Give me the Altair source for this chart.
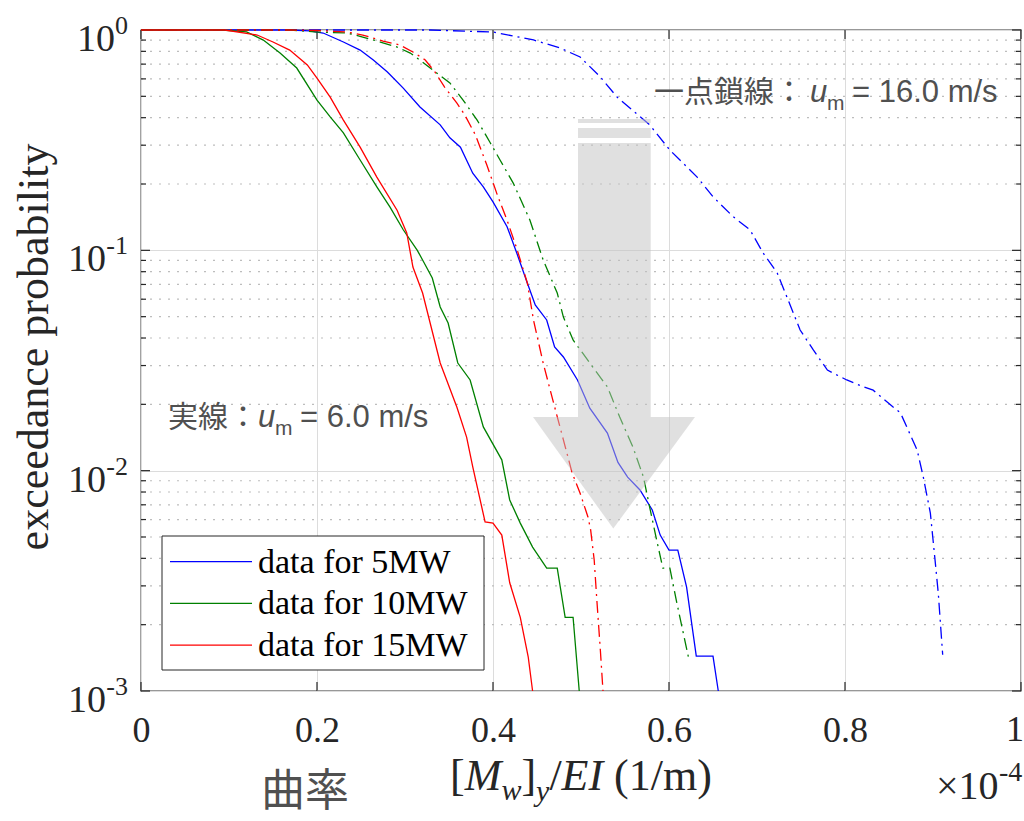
import altair as alt
import pandas as pd

# ---------------- data ----------------
SERIES = ["data for 5MW", "data for 10MW", "data for 15MW"]
COLORS = ["#0000ff", "#008000", "#ff0000"]

# solid lines : u_m = 6.0 m/s
blue_solid_x = [0, 0.169, 0.192, 0.207, 0.230, 0.249, 0.264, 0.280, 0.298, 0.317, 0.340, 0.351,
                0.363, 0.377, 0.389, 0.400, 0.416, 0.427, 0.439, 0.448, 0.461, 0.470, 0.480,
                0.496, 0.510, 0.530, 0.542, 0.553, 0.567, 0.581, 0.590, 0.600, 0.610, 0.620,
                0.631, 0.650, 0.656]
blue_solid_y = [1, 1, 0.99, 0.969, 0.882, 0.811, 0.731, 0.645, 0.545, 0.447, 0.371, 0.324,
                0.294, 0.224, 0.194, 0.166, 0.128, 0.0972, 0.0711, 0.0565, 0.0483, 0.0364, 0.0328,
                0.0258, 0.0192, 0.0148, 0.0109, 0.00935, 0.00817, 0.00663, 0.0051, 0.00436, 0.00436,
                0.00296, 0.00144, 0.00144, 0.001]

green_solid_x = [0, 0.092, 0.120, 0.139, 0.158, 0.177, 0.200, 0.215, 0.230, 0.249, 0.268, 0.283,
                 0.298, 0.314, 0.320, 0.331, 0.340, 0.349, 0.360, 0.374, 0.389, 0.410, 0.419,
                 0.431, 0.445, 0.461, 0.473, 0.482, 0.491, 0.498]
green_solid_y = [1, 1, 0.98, 0.90, 0.787, 0.672, 0.481, 0.403, 0.341, 0.257, 0.194, 0.157,
                 0.124, 0.100, 0.0904, 0.0749, 0.0553, 0.0468, 0.0308, 0.0258, 0.0158, 0.0112, 0.00736,
                 0.00578, 0.0045, 0.00361, 0.00361, 0.00216, 0.00216, 0.001]

red_solid_x = [0, 0.0955, 0.132, 0.150, 0.169, 0.189, 0.200, 0.215, 0.230, 0.249, 0.268, 0.291,
               0.302, 0.309, 0.320, 0.340, 0.359, 0.370, 0.377, 0.391, 0.400, 0.410, 0.419,
               0.431, 0.440, 0.445]
red_solid_y = [1, 1, 0.949, 0.882, 0.811, 0.694, 0.605, 0.496, 0.390, 0.294, 0.215, 0.152,
               0.12, 0.084, 0.064, 0.0308, 0.0194, 0.0142, 0.0104, 0.00585, 0.00578, 0.0051, 0.0031,
               0.00216, 0.00143, 0.001]

# dash-dot lines : u_m = 16.0 m/s
blue_dd_x = [0, 0.328, 0.400, 0.446, 0.476, 0.499, 0.522, 0.541, 0.578, 0.601, 0.632, 0.650,
             0.673, 0.692, 0.707, 0.723, 0.734, 0.749, 0.764, 0.780, 0.802, 0.821, 0.832, 0.855,
             0.863, 0.882, 0.889, 0.897, 0.902, 0.906, 0.911]
blue_dd_y = [1, 1, 0.979, 0.901, 0.829, 0.754, 0.612, 0.496, 0.371, 0.285, 0.215, 0.175,
             0.142, 0.124, 0.0972, 0.0789, 0.0614, 0.0435, 0.0353, 0.0286, 0.0258, 0.0240, 0.0232,
             0.0194, 0.0183, 0.0124, 0.00935, 0.00642, 0.00405, 0.00278, 0.00146]

green_dd_x = [0, 0.17, 0.200, 0.234, 0.252, 0.272, 0.291, 0.306, 0.320, 0.336, 0.351, 0.366,
              0.382, 0.397, 0.408, 0.423, 0.442, 0.457, 0.473, 0.480, 0.491, 0.510, 0.530, 0.544,
              0.559, 0.571, 0.578, 0.586, 0.593, 0.601, 0.609, 0.622]
green_dd_y = [1, 1, 0.979, 0.969, 0.929, 0.882, 0.837, 0.786, 0.715, 0.638, 0.575, 0.481,
              0.390, 0.307, 0.257, 0.202, 0.137, 0.0904, 0.064, 0.0498, 0.0392, 0.0308, 0.0240,
              0.0175, 0.0128, 0.00935, 0.00684, 0.00484, 0.00361, 0.00361, 0.0025, 0.00143]

red_dd_x = [0, 0.17, 0.200, 0.234, 0.252, 0.275, 0.294, 0.309, 0.323, 0.334, 0.345, 0.359,
            0.368, 0.380, 0.393, 0.405, 0.416, 0.427, 0.439, 0.446, 0.457, 0.468, 0.480, 0.490,
            0.499, 0.508, 0.511, 0.515, 0.518, 0.522, 0.525]
red_dd_y = [1, 1, 0.995, 0.979, 0.949, 0.891, 0.855, 0.795, 0.731, 0.645, 0.551, 0.466,
            0.411, 0.334, 0.244, 0.178, 0.137, 0.102, 0.0711, 0.0483, 0.0308, 0.0209, 0.0138,
            0.00975, 0.0079, 0.00615, 0.00537, 0.00393, 0.00259, 0.00153, 0.001]

X_TICKS = [0, 0.2, 0.4, 0.6, 0.8, 1.0]
Y_DECADES = [1, 0.1, 0.01, 0.001]
Y_EXPONENTS = ["0", "-1", "-2", "-3"]
Y_MINOR = [0.002, 0.003, 0.004, 0.005, 0.006, 0.007, 0.008, 0.009,
           0.02, 0.03, 0.04, 0.05, 0.06, 0.07, 0.08, 0.09,
           0.2, 0.3, 0.4, 0.5, 0.6, 0.7, 0.8, 0.9]

# big gray arrow (data coordinates)
ARROW_SHAFT_X = [0.4966, 0.5792]
ARROW_SHAFT_TOP = [0.3945, 0.359, 0.307]
ARROW_SHAFT_BOTTOM = [0.378, 0.3235, 0.0175]
ARROW_HEAD_X = [0.4455, 0.5367, 0.6295]
ARROW_HEAD_TOP = [0.0175, 0.0175, 0.0175]
ARROW_HEAD_TIP = [0.0175, 0.00546, 0.0175]

# ---------------- build ----------------
def frame(name, xs, ys):
    return pd.DataFrame({"x": xs, "y": ys, "series": name, "order": list(range(len(xs)))})

solid_df = pd.concat([frame(SERIES[0], blue_solid_x, blue_solid_y),
                      frame(SERIES[1], green_solid_x, green_solid_y),
                      frame(SERIES[2], red_solid_x, red_solid_y)], ignore_index=True)
dd_df = pd.concat([frame(SERIES[0], blue_dd_x, blue_dd_y),
                   frame(SERIES[1], green_dd_x, green_dd_y),
                   frame(SERIES[2], red_dd_x, red_dd_y)], ignore_index=True)

W, H = 880, 661
AX = "#262626"
ANN = "#505050"
SERIF = "Liberation Serif"
SANS = "Liberation Sans"
CJK = "Noto Sans CJK JP"

xscale = alt.Scale(domain=[0, 1], nice=False, zero=False)
yscale = alt.Scale(type="log", domain=[0.001, 1], nice=False)
xaxis = alt.Axis(values=X_TICKS, format="~g", grid=True, gridColor="#dcdcdc", gridWidth=1,
                 ticks=False, tickSize=0, domain=False, labelFont=SERIF, labelFontSize=36,
                 labelColor=AX, labelPadding=22, labelFlush=False, labelOverlap=False, title=None,
                 labelExpr="datum.value >= 1 ? '' : datum.label")
yaxis = alt.Axis(values=Y_DECADES, grid=True, gridColor="#dcdcdc", gridWidth=1, labels=False,
                 ticks=False, tickSize=0, domain=False, title=None)


def X(f="x"):
    return alt.X(f"{f}:Q", scale=xscale, axis=xaxis)


def Y(f="y"):
    return alt.Y(f"{f}:Q", scale=yscale, axis=yaxis)


color = alt.Color("series:N", scale=alt.Scale(domain=SERIES, range=COLORS), legend=None)
DUMMY = pd.DataFrame({"a": [0]})


def txt(text, x, y, size, font=SERIF, col=AX, italic=False, align="left", angle=None,
        baseline="alphabetic"):
    kw = dict(text=text, font=font, fontSize=size, color=col, align=align, baseline=baseline)
    if italic:
        kw["fontStyle"] = "italic"
    if angle is not None:
        kw["angle"] = angle
    return alt.Chart(DUMMY).mark_text(**kw).encode(x=alt.value(x), y=alt.value(y))


layers = []

# minor dotted grid
minor_df = pd.DataFrame({"y": Y_MINOR})
layers.append(alt.Chart(minor_df).mark_rule(color="#bdbdbd", strokeWidth=1.2, strokeDash=[2, 7])
              .encode(y=Y(), x=alt.value(0), x2=alt.value(W)))

# ticks (inside)
xt = pd.DataFrame({"x": X_TICKS})
layers.append(alt.Chart(xt).mark_rule(color=AX, strokeWidth=1.2)
              .encode(x=X(), y=alt.value(H), y2=alt.value(H - 9)))
layers.append(alt.Chart(xt).mark_rule(color=AX, strokeWidth=1.2)
              .encode(x=X(), y=alt.value(0), y2=alt.value(9)))
yt = pd.DataFrame({"y": Y_DECADES})
layers.append(alt.Chart(yt).mark_rule(color=AX, strokeWidth=1.2)
              .encode(y=Y(), x=alt.value(0), x2=alt.value(9)))
layers.append(alt.Chart(yt).mark_rule(color=AX, strokeWidth=1.2)
              .encode(y=Y(), x=alt.value(W - 9), x2=alt.value(W)))
layers.append(alt.Chart(minor_df).mark_rule(color=AX, strokeWidth=1.2)
              .encode(y=Y(), x=alt.value(0), x2=alt.value(5)))
layers.append(alt.Chart(minor_df).mark_rule(color=AX, strokeWidth=1.2)
              .encode(y=Y(), x=alt.value(W - 5), x2=alt.value(W)))

# data lines
layers.append(alt.Chart(solid_df).mark_line(strokeWidth=1.3)
              .encode(x=X(), y=Y(), color=color, order="order:Q"))
layers.append(alt.Chart(dd_df).mark_line(strokeWidth=1.3, strokeDash=[12, 5, 2, 5])
              .encode(x=X(), y=Y(), color=color, order="order:Q"))

# arrow (semi-transparent, on top of lines)
shaft_df = pd.DataFrame({"x": [ARROW_SHAFT_X[0]] * 3, "x2": [ARROW_SHAFT_X[1]] * 3,
                         "y": ARROW_SHAFT_TOP, "y2": ARROW_SHAFT_BOTTOM})
layers.append(alt.Chart(shaft_df).mark_rect(color="#c2c2c2", opacity=0.5)
              .encode(x=X(), x2="x2:Q", y=Y(), y2="y2:Q"))
head_df = pd.DataFrame({"x": ARROW_HEAD_X, "y": ARROW_HEAD_TOP, "y2": ARROW_HEAD_TIP})
layers.append(alt.Chart(head_df).mark_area(color="#c2c2c2", opacity=0.5)
              .encode(x=X(), y=Y(), y2="y2:Q"))

# last x tick label, kept inside the canvas
layers.append(txt("1", W + 3, H + 50, 36, align="right"))

# y tick labels 10^k
for val, ex in zip(Y_DECADES, Y_EXPONENTS):
    d = pd.DataFrame({"y": [val]})
    ew = 13 if len(ex) == 1 else 22
    layers.append(alt.Chart(d).mark_text(text=ex, font=SERIF, fontSize=26, color=AX,
                                         align="right", baseline="alphabetic", dy=4)
                  .encode(x=alt.value(-13), y=Y()))
    layers.append(alt.Chart(d).mark_text(text="10", font=SERIF, fontSize=38, color=AX,
                                         align="right", baseline="alphabetic", dy=21)
                  .encode(x=alt.value(-13 - ew), y=Y()))

# y-axis title
layers.append(txt("exceedance probability", -106, 317, 44, angle=270, align="center",
                  baseline="middle"))

# x-axis title  [M_w]_y / EI (1/m)
layers.append(txt("[", 309, 760, 44))
layers.append(txt("M", 323.7, 760, 44, italic=True))
layers.append(txt("w", 360.4, 770, 30, italic=True))
layers.append(txt("]", 380.4, 760, 44))
layers.append(txt("y", 395, 771, 30, italic=True))
layers.append(txt("/", 408.4, 760, 44))
layers.append(txt("EI", 420.6, 760, 44, italic=True))
layers.append(txt("(1/m)", 473.1, 760, 44))

# x10^-4
layers.append(txt("\u00d710", 795, 769, 40))
layers.append(txt("-4", 858, 751, 28))

# 曲率
layers.append(txt("曲率", 120, 776, 44, font=CJK, col=ANN))

# annotations
layers.append(txt("一点鎖線：", 513, 72, 30, font=CJK, col=ANN))
layers.append(txt("u", 669, 72, 31, font=SANS, col=ANN, italic=True))
layers.append(txt("m", 686, 80, 21, font=SANS, col=ANN))
layers.append(txt("= 16.0 m/s", 711, 72, 31, font=SANS, col=ANN))

layers.append(txt("実線：", 27, 397, 30, font=CJK, col=ANN))
layers.append(txt("u", 117, 397, 31, font=SANS, col=ANN, italic=True))
layers.append(txt("m", 134, 405, 21, font=SANS, col=ANN))
layers.append(txt("= 6.0 m/s", 159, 397, 31, font=SANS, col=ANN))

# legend (manual box)
layers.append(alt.Chart(DUMMY).mark_rect(fill="white", stroke=AX, strokeWidth=1)
              .encode(x=alt.value(21), x2=alt.value(343), y=alt.value(506), y2=alt.value(640)))
for i, (name, c) in enumerate(zip(SERIES, COLORS)):
    ry = 531.7 + i * 41.7
    layers.append(alt.Chart(DUMMY).mark_rule(color=c, strokeWidth=1.3)
                  .encode(x=alt.value(29), x2=alt.value(111), y=alt.value(ry)))
    layers.append(txt(name, 117, ry + 11, 34, col="#000000"))

chart = (alt.layer(*layers)
         .properties(width=W, height=H, autosize=alt.AutoSizeParams(type="none"),
                     padding={"left": 141, "top": 30, "right": 3, "bottom": 130},
                     background="white")
         .configure_view(stroke="#333333", strokeWidth=1.3))

chart.save("out.html", embed_options={"renderer": "svg", "actions": False})
